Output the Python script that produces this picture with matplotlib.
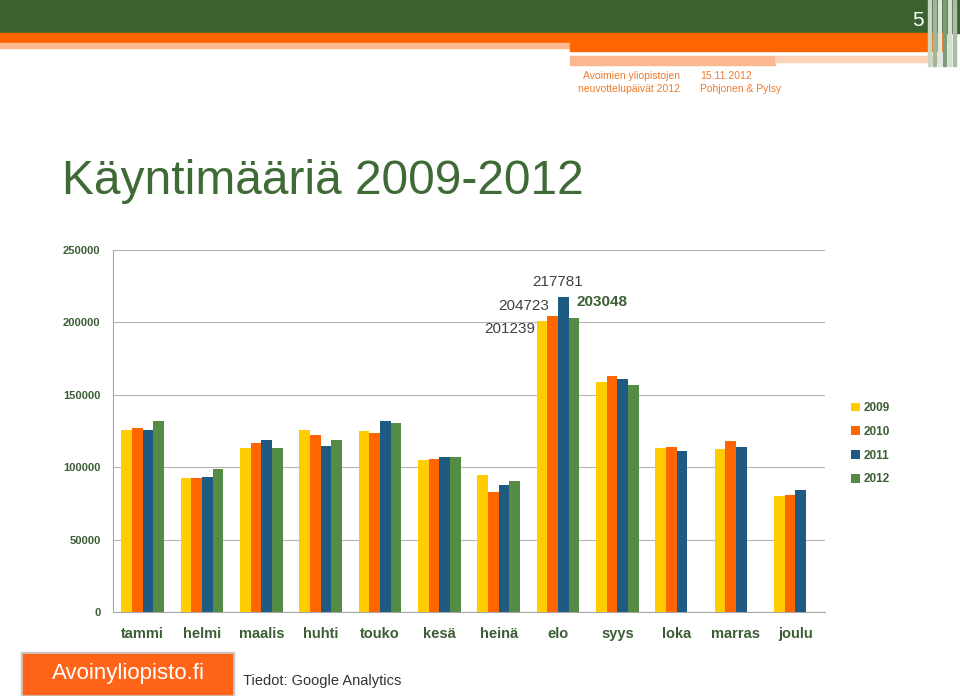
import numpy as np
import matplotlib.pyplot as plt
from matplotlib.patches import Rectangle

# monthly visit counts
months = ['tammi', 'helmi', 'maalis', 'huhti', 'touko', 'kesä',
          'heinä', 'elo', 'syys', 'loka', 'marras', 'joulu']
years = ['2009', '2010', '2011', '2012']
v2009 = [125700, 92300, 113300, 125700, 124800, 104700, 94600, 201239, 159100, 113300, 112300, 80100]
v2010 = [126900, 92300, 116500, 122200, 123600, 105700, 82900, 204723, 162800, 113700, 118100, 81000]
v2011 = [125700, 93500, 119000, 114400, 131700, 107000, 87700, 217781, 160700, 111200, 114200, 84300]
v2012 = [132100, 99000, 113500, 118800, 130300, 107000, 90300, 203048, 156800, np.nan, np.nan, np.nan]
colors = ['#FFCC00', '#FF6600', '#1E5A82', '#548B45']

plt.rcParams['font.family'] = ['Liberation Sans', 'DejaVu Sans']
green_txt = '#3C5E34'

fig = plt.figure(figsize=(9.6, 6.96), dpi=100)

# slide header decoration
fig.patches.append(Rectangle((0, 1 - 33/696), 1, 33/696, transform=fig.transFigure, color='#3B6131', zorder=0))
fig.patches.append(Rectangle((0, 1 - 43/696), 0.985, 10/696, transform=fig.transFigure, color='#FF6600', zorder=0))
fig.patches.append(Rectangle((0, 1 - 48/696), 570/960, 5/696, transform=fig.transFigure, color='#FBB890', zorder=0))
fig.patches.append(Rectangle((570/960, 1 - 51/696), 375/960, 8/696, transform=fig.transFigure, color='#FF6600', zorder=0))
fig.patches.append(Rectangle((570/960, 1 - 65/696), 205/960, 9/696, transform=fig.transFigure, color='#FBB890', zorder=0))
fig.patches.append(Rectangle((775/960, 1 - 62/696), 165/960, 6/696, transform=fig.transFigure, color='#FCD3B8', zorder=0))
for xs, c in [(928, '#C9D6C4'), (933, '#9FB697'), (938, '#E0E8DC'), (943, '#7E9C74'), (948, '#D5E0D0'), (953, '#A9BEA2')]:
    fig.patches.append(Rectangle((xs/960, 1 - 66/696), 2.5/960, 66/696, transform=fig.transFigure, color=c, zorder=1))
fig.text(918/960, 1 - 20/696, '5', color='white', fontsize=15, ha='center', va='center')

hdr_font = ['Liberation Sans Narrow', 'Liberation Sans', 'DejaVu Sans']
fig.text(680/960, 1 - 76/696, 'Avoimien yliopistojen', color='#F07A2A', fontsize=7.5, ha='right', va='center', family=hdr_font)
fig.text(680/960, 1 - 89/696, 'neuvottelupäivät 2012', color='#F07A2A', fontsize=7.5, ha='right', va='center', family=hdr_font)
fig.text(700/960, 1 - 76/696, '15.11.2012', color='#F07A2A', fontsize=7.5, ha='left', va='center', family=hdr_font)
fig.text(700/960, 1 - 89/696, 'Pohjonen & Pylsy', color='#F07A2A', fontsize=7.5, ha='left', va='center', family=hdr_font)

# title
fig.text(62/960, 1 - 194/696, 'Käyntimääriä 2009-2012', color='#3E6B35', fontsize=34.5, ha='left', va='baseline')

ax = fig.add_axes([113/960, 1 - 612/696, 712/960, 362/696])
x = np.arange(len(months))
w = 0.18
series = [v2009, v2010, v2011, v2012]
for k, (vals, c, lab) in enumerate(zip(series, colors, years)):
    ax.bar(x + (k - 1.5) * w, vals, width=w, color=c, label=lab, zorder=3)

ax.set_xlim(-0.5, len(months) - 0.5)
ax.set_ylim(0, 250000)
ax.set_yticks(np.arange(0, 250001, 50000))
ax.set_yticklabels([str(v) for v in range(0, 250001, 50000)])
ax.set_xticks(x)
ax.set_xticklabels(months)
ax.grid(axis='y', color='#B4B4B4', linewidth=0.8, zorder=0)
ax.set_axisbelow(True)
for s in ['top', 'right']:
    ax.spines[s].set_visible(False)
ax.spines['left'].set_color('#A6A6A6')
ax.spines['bottom'].set_color('#A6A6A6')
ax.tick_params(axis='y', length=0, pad=9, labelsize=8, labelcolor=green_txt)
ax.tick_params(axis='x', length=0, pad=11, labelsize=10.5, labelcolor=green_txt)
for t in ax.get_yticklabels() + ax.get_xticklabels():
    t.set_fontweight('bold')

# value labels on the August bars
i = months.index('elo')
lab_col = '#404040'
ax.annotate(f'{v2009[i]}', xy=(i - 2 * w, v2009[i]), xytext=(-1, -6), textcoords='offset points',
            ha='right', va='center', fontsize=11, color=lab_col)
ax.annotate(f'{v2010[i]}', xy=(i - w, v2010[i]), xytext=(1, 7), textcoords='offset points',
            ha='right', va='center', fontsize=11, color=lab_col)
ax.annotate(f'{v2011[i]}', xy=(i + 0.5 * w, v2011[i]), xytext=(-4, 10.5), textcoords='offset points',
            ha='center', va='center', fontsize=11, color=lab_col)
ax.annotate(f'{v2012[i]}', xy=(i + 2 * w, v2012[i]), xytext=(-2.4, 11.5), textcoords='offset points',
            ha='left', va='center', fontsize=11, color=green_txt, fontweight='bold')

leg = ax.legend(loc='upper left', bbox_to_anchor=(851/960, 1 - 402/696), bbox_transform=fig.transFigure,
                frameon=False, fontsize=8.5, handlelength=0.75, handleheight=0.75, labelspacing=1.0,
                handletextpad=0.35, borderpad=0, borderaxespad=0)
for t in leg.get_texts():
    t.set_color(green_txt)
    t.set_fontweight('bold')

# footer
fig.patches.append(Rectangle((21/960, 1 - 695/696), 213/960, 43/696, transform=fig.transFigure,
                             color='#C8C8C8', zorder=0))
fig.patches.append(Rectangle((23/960, 1 - 694/696), 209/960, 40/696, transform=fig.transFigure,
                             color='#FF6418', zorder=1))
fig.text(128/960, 1 - 673/696, 'Avoinyliopisto.fi', color='white', fontsize=16, ha='center', va='center', zorder=2)
fig.text(243/960, 1 - 681/696, 'Tiedot: Google Analytics', color='#333333', fontsize=10.5, ha='left', va='center')

fig.savefig('out.png', dpi=100)
